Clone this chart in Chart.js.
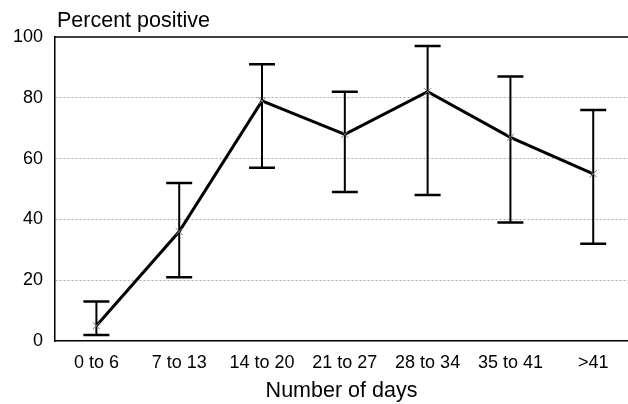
<!DOCTYPE html>
<html><head><meta charset="utf-8">
<script src="https://cdn.jsdelivr.net/npm/chart.js@4/dist/chart.umd.min.js"></script>
<style>html,body{margin:0;padding:0;background:#fff}#wrap{width:628px;height:404px;position:relative}</style>
</head><body><div id="wrap"><canvas id="c" width="628" height="404"></canvas></div>
<script>
const categories = ['0 to 6','7 to 13','14 to 20','21 to 27','28 to 34','35 to 41','>41'];
const percentPositive = [5, 36, 79, 68, 82, 67, 55];
const lowerCI = [2, 21, 57, 49, 48, 39, 32];
const upperCI = [13, 52, 91, 82, 97, 87, 76];
const yTicks = [0, 20, 40, 60, 80, 100];
const yAxisTitle = 'Percent positive';
const xAxisTitle = 'Number of days';

const FONT = "'Liberation Sans', Arial, sans-serif";

const errorBars = {
  id: 'errorBars',
  beforeDatasetsDraw(chart) {
    const {ctx, scales: {x, y}, chartArea} = chart;
    ctx.save();
    ctx.strokeStyle = '#000';
    ctx.lineWidth = 1.5;
    const yt = y.getPixelForValue(100);
    ctx.beginPath(); ctx.moveTo(chartArea.left, yt); ctx.lineTo(chartArea.right, yt); ctx.stroke();
    categories.forEach((c, i) => {
      const px = x.getPixelForValue(i);
      const lo = y.getPixelForValue(lowerCI[i]);
      const hi = y.getPixelForValue(upperCI[i]);
      ctx.lineWidth = 2;
      ctx.beginPath(); ctx.moveTo(px, lo); ctx.lineTo(px, hi); ctx.stroke();
      ctx.lineWidth = 2.5;
      ctx.beginPath();
      ctx.moveTo(px - 13, lo); ctx.lineTo(px + 13, lo);
      ctx.moveTo(px - 13, hi); ctx.lineTo(px + 13, hi);
      ctx.stroke();
    });
    ctx.restore();
  },
  afterDraw(chart) {
    const {ctx, chartArea} = chart;
    ctx.save();
    ctx.fillStyle = '#000';
    ctx.font = '21.5px ' + FONT;
    ctx.textBaseline = 'alphabetic';
    ctx.textAlign = 'left';
    ctx.fillText(yAxisTitle, chartArea.left + 2, 27);
    ctx.restore();
  }
};

new Chart(document.getElementById('c'), {
  type: 'line',
  data: {
    datasets: [{
      data: percentPositive.map((v, i) => ({x: i, y: v})),
      borderColor: '#000',
      borderWidth: 3,
      pointStyle: 'crossRot',
      pointRadius: 5,
      pointBorderColor: '#777',
      pointBorderWidth: 1,
      tension: 0,
      fill: false
    }]
  },
  options: {
    responsive: false,
    animation: false,
    devicePixelRatio: 1,
    layout: {autoPadding: false, padding: {top: 37, right: 0, left: 0, bottom: 0}},
    plugins: {legend: {display: false}, tooltip: {enabled: false}},
    scales: {
      x: {
        type: 'linear',
        min: -0.5,
        max: 6.42,
        afterBuildTicks: s => { s.ticks = categories.map((_, i) => ({value: i})); },
        afterFit: s => { s.height = 63; },
        ticks: {
          callback: v => categories[v] ?? '',
          font: {size: 18, family: FONT},
          color: '#000',
          padding: 11,
          autoSkip: false,
          maxRotation: 0
        },
        grid: {display: false, drawTicks: false},
        border: {color: '#000', width: 1.5},
        title: {display: true, text: xAxisTitle, font: {size: 21.5, family: FONT}, color: '#000', padding: {top: 0, bottom: 0}}
      },
      y: {
        min: 0,
        max: 100,
        afterBuildTicks: s => { s.ticks = yTicks.map(v => ({value: v})); },
        afterFit: s => { s.width = 55; },
        ticks: {font: {size: 18, family: FONT}, color: '#000', padding: 12},
        grid: {
          drawTicks: false,
          color: ctx => (ctx.tick && (ctx.tick.value === 0 || ctx.tick.value === 100)) ? 'rgba(0,0,0,0)' : '#aaaaaa',
          lineWidth: 1
        },
        border: {color: '#000', width: 1.5, dash: [2, 2]}
      }
    }
  },
  plugins: [errorBars]
});
</script>
</body></html>
